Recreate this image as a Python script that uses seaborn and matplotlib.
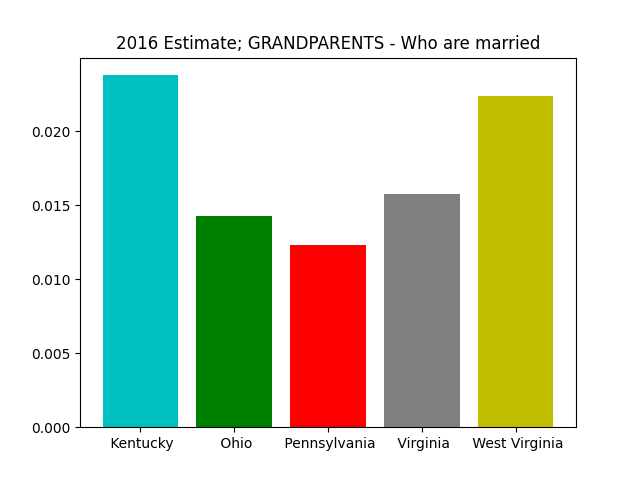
import matplotlib
matplotlib.use("Agg")
import matplotlib.pyplot as plt
import seaborn as sns

# Values
states = [" Kentucky", " Ohio", " Pennsylvania", " Virginia", " West Virginia"]
married_share = [0.02378, 0.01426, 0.01230, 0.01574, 0.02236]
bar_colors = ["c", "g", "r", "grey", "y"]

fig, ax = plt.subplots(figsize=(6.4, 4.8), dpi=100)
sns.barplot(x=states, y=married_share, hue=states, palette=bar_colors,
            saturation=1, width=0.8, legend=False, ax=ax)
ax.set_xlim(-0.64, 4.64)
ax.set_title("2016 Estimate; GRANDPARENTS - Who are married")
ax.set_xlabel("")
ax.set_ylabel("")
ax.yaxis.set_major_formatter(matplotlib.ticker.FormatStrFormatter("%.3f"))

fig.savefig("out.png", dpi=100)
